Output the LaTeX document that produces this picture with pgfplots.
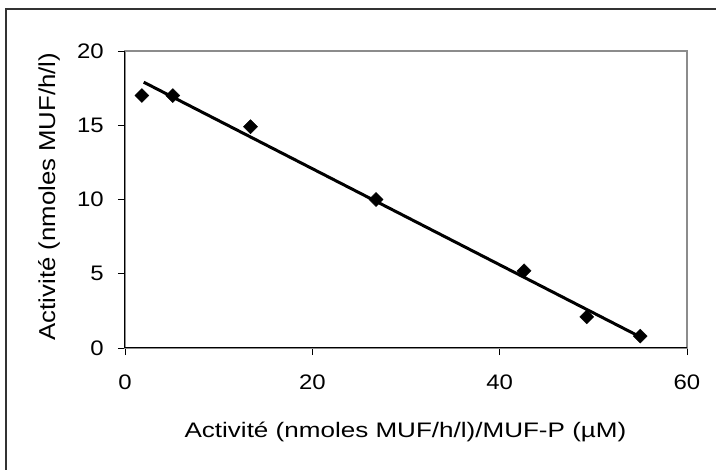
\documentclass[border=0pt]{standalone}
\usepackage{fontspec}
\setmainfont{Liberation Sans}
\newfontfamily\tickfont[FakeStretch=1.14]{Liberation Sans}
\newfontfamily\labfont[FakeStretch=1.24]{Liberation Sans}
\newfontfamily\ylabfont[FakeStretch=1.12]{Liberation Sans}
\usepackage{pgfplots}
\pgfplotsset{compat=1.18}
\begin{document}
\begin{tikzpicture}
\path[use as bounding box] (0,0) rectangle (716pt,-470pt);
\begin{axis}[
  at={(125pt,-348pt)}, anchor=south west,
  scale only axis, width=562pt, height=297pt,
  xmin=0, xmax=60, ymin=0, ymax=20,
  xtick={0,20,40,60}, ytick={0,5,10,15,20},
  axis line style={draw=black!45, line width=1.3pt},
  tick pos=left, tick align=outside, major tick length=7pt,
  tick style={black, line width=0.8pt},
  /pgf/number format/assume math mode=true,
  ticklabel style={font=\tickfont\fontsize{21}{25}\selectfont, inner sep=0pt},
  yticklabel style={anchor=east, xshift=-14pt},
  xticklabel style={anchor=north, yshift=-20pt},
  xlabel={Activité (nmoles MUF/h/l)/MUF-P (µM)},
  ylabel={Activité (nmoles MUF/h/l)},
  xlabel style={font=\labfont\fontsize{21}{25}\selectfont, at={(axis description cs:0.499,-0.2997)}, anchor=base, inner sep=0pt},
  ylabel style={font=\ylabfont\fontsize{23}{27}\selectfont, at={(axis description cs:-0.1243,0.51)}, anchor=base, inner sep=0pt},
  clip=false,
]
\draw[black, line width=1pt] (rel axis cs:0,1) -- (rel axis cs:0,0) -- (rel axis cs:1,0);
\addplot[black, line width=3pt, no marks] coordinates {(2,17.9) (55,0.75)};
\addplot[only marks, mark=square*, mark size=4.95pt, mark options={rotate=45, fill=black, draw=black}] coordinates {
(1.8,17.0) (5.1,17.0) (13.4,14.9) (26.8,10.0) (42.6,5.2) (49.3,2.1) (55.0,0.8)
};
\end{axis}
\draw[black!80, line width=2pt] (6pt,-470pt) -- (6pt,-9pt) -- (716pt,-9pt);
\end{tikzpicture}
\end{document}
